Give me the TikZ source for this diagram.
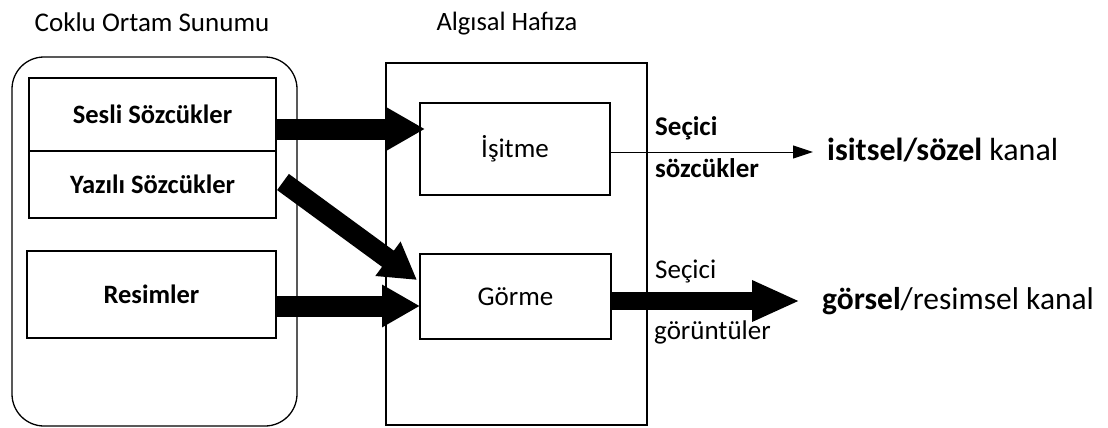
\documentclass[tikz,border=0pt]{standalone}
\usepackage{fontspec}
\setmainfont{Carlito}
\usetikzlibrary{arrows.meta,calc}
\tikzset{
  box/.style={draw, line width=1.3pt, inner sep=0pt, anchor=center},
  lbl/.style={inner sep=0pt, anchor=west},
  bigarrow/.style={line width=21pt, -{Triangle[length=38pt,width=40pt]}},
  thinarrow/.style={line width=1pt, -{Triangle[length=20pt,width=13pt]}},
}
\begin{document}
\begin{tikzpicture}[x=1pt,y=-1pt]
  \useasboundingbox (0,0) rectangle (1108,428);
  % headings
  \node[inner sep=0pt] (t1) at (152,22) {\fontsize{27}{32}\selectfont Coklu Ortam Sunumu};
  \node[inner sep=0pt] (t2) at (507,24) {\fontsize{26.5}{32}\selectfont Algısal Hafıza};
  % left panel
  \node[box, rounded corners=32pt, minimum width=285pt, minimum height=369pt] (sunum) at (154.5,241.5) {};
  \node[box, minimum width=247pt, minimum height=73pt] (sesli) at (152.5,114.5) {\fontsize{26.5}{32}\selectfont\bfseries Sesli Sözcükler};
  \node[box, minimum width=247pt, minimum height=67pt] (yazili) at (152.5,184.5) {\fontsize{26.5}{32}\selectfont\bfseries Yazılı Sözcükler};
  \node[box, minimum width=249pt, minimum height=87pt] (resim) at (151.5,294.5) {\fontsize{26.5}{32}\selectfont\bfseries Resimler};
  % sensory memory
  \node[box, minimum width=261pt, minimum height=362pt] (hafiza) at (516.5,244) {};
  \node[box, minimum width=190pt, minimum height=92pt] (isitme) at (515,149) {\fontsize{27}{32}\selectfont İşitme};
  \node[box, minimum width=191pt, minimum height=85pt] (gorme) at (515.5,296.5) {\fontsize{27}{32}\selectfont Görme};
  % side labels
  \node[lbl] (s1) at (655,128) {\fontsize{27}{32}\selectfont\bfseries Seçici};
  \node[lbl] (s2) at (655,168) {\fontsize{27}{32}\selectfont\bfseries sözcükler};
  \node[lbl] (s3) at (655,271) {\fontsize{27}{32}\selectfont Seçici};
  \node[lbl] (s4) at (654,332) {\fontsize{27}{32}\selectfont görüntüler};
  \node[lbl] (k1) at (827,150) {\fontsize{32}{38}\selectfont\textbf{isitsel/sözel} kanal};
  \node[lbl] (k2) at (822,301) {\fontsize{31.5}{38}\selectfont\textbf{görsel}/resimsel kanal};
  % connector end points
  \coordinate (a1s) at (sesli.east |- 0,129);
  \coordinate (a1e) at (425,129);
  \coordinate (a2s) at (283,182);
  \coordinate (a2e) at (417,280);
  \coordinate (a3s) at (resim.east |- 0,306);
  \coordinate (a3e) at (420,306);
  \coordinate (o1s) at (isitme.east |- 0,152);
  \coordinate (o1e) at (813,152);
  \coordinate (o2s) at (gorme.east |- 0,301);
  \coordinate (o2e) at ($(k2.west)+(-22,0)$);
  % connectors
  \draw[bigarrow] (a1s) -- (a1e);
  \draw[bigarrow, line width=20pt, -{Triangle[length=36pt,width=40pt]}] (a2s) -- (a2e);
  \draw[bigarrow] (a3s) -- (a3e);
  \draw[thinarrow] (o1s) -- (o1e);
  \draw[line width=18pt, -{Triangle[length=48pt,width=38pt]}] (o2s) -- (o2e);
\end{tikzpicture}
\end{document}
